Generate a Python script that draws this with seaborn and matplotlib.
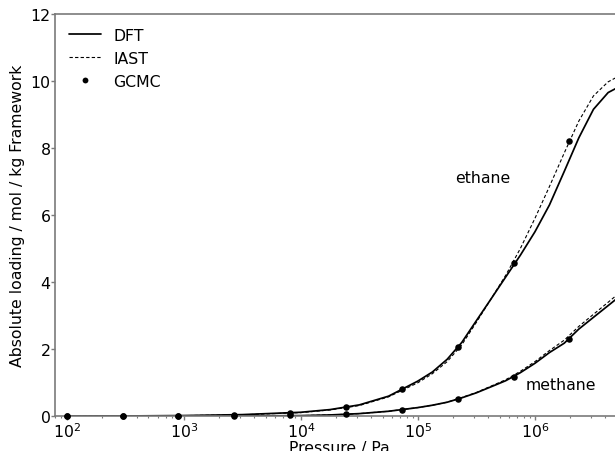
import matplotlib
matplotlib.use("Agg")
import matplotlib.pyplot as plt
from matplotlib.lines import Line2D
import seaborn as sns
import pandas as pd

# ---- data ----
pressure_curve = [1.0e2, 3.16e2, 1.0e3, 3.16e3, 1.0e4, 1.78e4, 3.16e4, 5.62e4,
                  1.0e5, 1.33e5, 1.78e5, 2.37e5, 3.16e5, 4.22e5, 5.62e5, 7.5e5,
                  1.0e6, 1.33e6, 1.78e6, 2.37e6, 3.16e6, 4.22e6, 5.62e6]
ethane_dft = [0.004, 0.01, 0.022, 0.05, 0.12, 0.2, 0.34, 0.6,
              1.05, 1.32, 1.7, 2.2, 2.85, 3.5, 4.15, 4.8,
              5.5, 6.3, 7.3, 8.3, 9.15, 9.65, 9.88]
ethane_iast = [0.003, 0.008, 0.02, 0.045, 0.11, 0.19, 0.32, 0.58,
               1.0, 1.27, 1.63, 2.13, 2.8, 3.5, 4.2, 5.0,
               5.9, 6.85, 7.85, 8.8, 9.55, 9.97, 10.2]
methane_dft = [0.001, 0.002, 0.004, 0.008, 0.02, 0.04, 0.08, 0.15,
               0.26, 0.33, 0.42, 0.55, 0.7, 0.88, 1.06, 1.3,
               1.58, 1.9, 2.18, 2.6, 2.95, 3.3, 3.65]
methane_iast = [0.001, 0.002, 0.004, 0.008, 0.02, 0.04, 0.08, 0.15,
                0.26, 0.33, 0.42, 0.56, 0.71, 0.9, 1.09, 1.34,
                1.63, 1.96, 2.27, 2.68, 3.04, 3.4, 3.76]

pressure_gcmc = [100, 300, 900, 2700, 8100, 24300, 72900, 218700, 656100, 1968300]
ethane_gcmc = [0.0, 0.01, 0.02, 0.04, 0.11, 0.28, 0.81, 2.08, 4.56, 8.21]
methane_gcmc = [0.0, 0.0, 0.005, 0.01, 0.03, 0.07, 0.2, 0.52, 1.18, 2.3]

legend_labels = ["DFT", "IAST", "GCMC"]
curve_labels = ["ethane", "methane"]
yticks = [0, 2, 4, 6, 8, 10, 12]

# ---- style ----
sns.set_style("ticks")
plt.rcParams["font.family"] = ["DejaVu Sans"]
plt.rcParams["mathtext.fontset"] = "dejavusans"
plt.rcParams["text.color"] = "black"
plt.rcParams["axes.labelcolor"] = "black"
plt.rcParams["xtick.labelcolor"] = "black"
plt.rcParams["ytick.labelcolor"] = "black"
FS = 11.3
GRAY = "#7a7a7a"

W, H = 615, 452
fig = plt.figure(figsize=(W / 100, H / 100), dpi=100)
left, right, top, bottom = 55.3, 623.0, 14.7, 417.3
ax = fig.add_axes([left / W, 1 - bottom / H, (right - left) / W, (bottom - top) / H])

curves = pd.DataFrame({
    "P": pressure_curve,
    "eth_dft": ethane_dft, "eth_iast": ethane_iast,
    "met_dft": methane_dft, "met_iast": methane_iast,
})
pts = pd.DataFrame({"P": pressure_gcmc, "eth": ethane_gcmc, "met": methane_gcmc})

solid_kw = dict(color="black", lw=1.25, legend=False)
dash_kw = dict(color="black", lw=0.8, linestyle=(0, (3, 2)), legend=False)

sns.lineplot(data=curves, x="P", y="eth_dft", ax=ax, **solid_kw)
sns.lineplot(data=curves, x="P", y="eth_iast", ax=ax, **dash_kw)
sns.lineplot(data=curves, x="P", y="met_dft", ax=ax, **solid_kw)
sns.lineplot(data=curves, x="P", y="met_iast", ax=ax, **dash_kw)

for col in ["eth", "met"]:
    sns.scatterplot(data=pts, x="P", y=col, ax=ax, color="black", s=22,
                    linewidth=0, zorder=3, clip_on=False, legend=False)

ax.set_xscale("log")
ax.set_xlim(80, 5.65e6)
ax.set_ylim(0, 12)
ax.set_yticks(yticks)
ax.set_yticklabels([str(v) for v in yticks])

ax.set_xlabel("Pressure / Pa", fontsize=FS, labelpad=0, color="black")
ax.set_ylabel("Absolute loading / mol / kg Framework", fontsize=FS, color="black")

for s in ax.spines.values():
    s.set_color(GRAY)
    s.set_linewidth(1.2)

ax.tick_params(axis="both", which="major", labelsize=FS, length=2.8, width=1.0,
               pad=0.6, color=GRAY, labelcolor="black")
ax.tick_params(axis="x", which="minor", length=1.6, width=0.8, color=GRAY)

ax.text(10 ** 5.551, 7.13, curve_labels[0], fontsize=FS, ha="center", va="center",
        color="black")
ax.text(10 ** 6.218, 0.96, curve_labels[1], fontsize=FS, ha="center", va="center",
        color="black")

handles = [
    Line2D([], [], color="black", lw=1.25, label=legend_labels[0]),
    Line2D([], [], color="black", lw=0.8, linestyle=(0, (3, 2)), label=legend_labels[1]),
    Line2D([], [], color="black", marker="o", linestyle="", markersize=4.2,
           markeredgewidth=0, label=legend_labels[2]),
]
leg = ax.legend(handles=handles, loc="upper left", frameon=False, fontsize=FS)
for t in leg.get_texts():
    t.set_color("black")

fig.savefig("out.png", dpi=100)
